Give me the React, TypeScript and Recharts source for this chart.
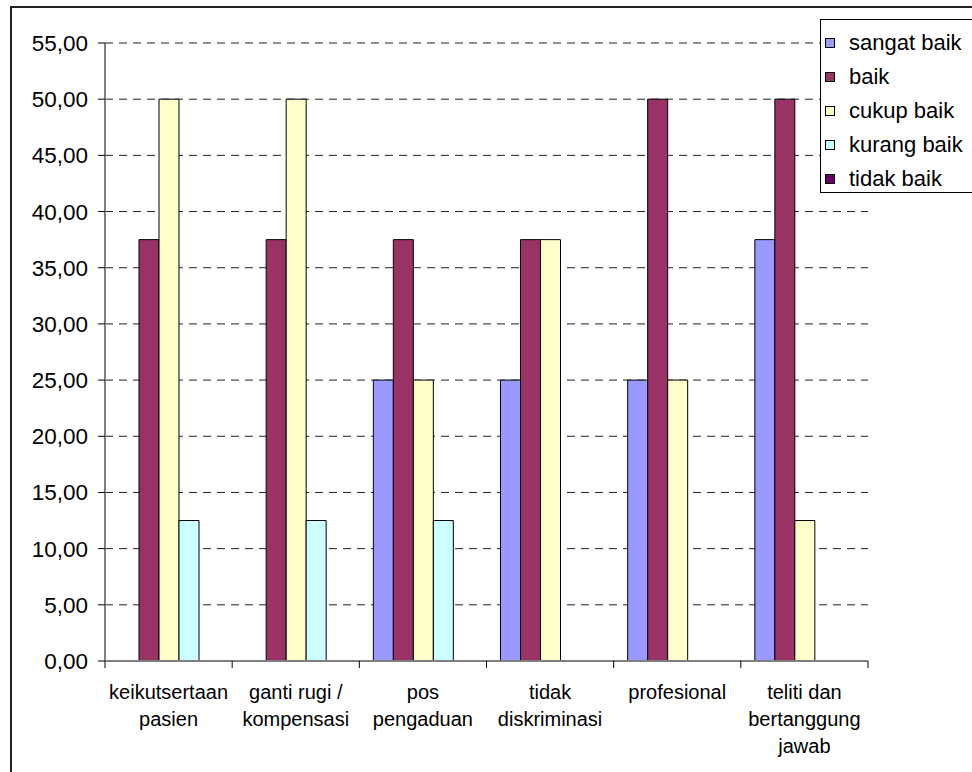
import React from "react";
import {
  BarChart,
  Bar,
  XAxis,
  YAxis,
  CartesianGrid,
  Legend
} from "recharts";

// categories, split in the lines used under the x axis
const categoryLines = [
  ["keikutsertaan", "pasien"],
  ["ganti rugi /", "kompensasi"],
  ["pos", "pengaduan"],
  ["tidak", "diskriminasi"],
  ["profesional"],
  ["teliti dan", "bertanggung", "jawab"]
];
const categories = categoryLines.map(l => l.join(" "));

const sangatBaik = [0, 0, 25, 25, 25, 37.5];
const baik = [37.5, 37.5, 37.5, 37.5, 50, 50];
const cukupBaik = [50, 50, 25, 37.5, 25, 12.5];
const kurangBaik = [12.5, 12.5, 12.5, 0, 0, 0];
const tidakBaik = [0, 0, 0, 0, 0, 0];

const yTicks = [0, 5, 10, 15, 20, 25, 30, 35, 40, 45, 50, 55];

const series = [
  { key: "sangatBaik", name: "sangat baik", color: "#9999FF" },
  { key: "baik", name: "baik", color: "#993366" },
  { key: "cukupBaik", name: "cukup baik", color: "#FFFFCC" },
  { key: "kurangBaik", name: "kurang baik", color: "#CCFFFF" },
  { key: "tidakBaik", name: "tidak baik", color: "#660066" }
];

const data = categories.map((c, i) => ({
  category: c,
  sangatBaik: sangatBaik[i],
  baik: baik[i],
  cukupBaik: cukupBaik[i],
  kurangBaik: kurangBaik[i],
  tidakBaik: tidakBaik[i]
}));

const W = 972;
const H = 772;
const Y_AXIS_W = 105;
const MARGIN = { top: 43, right: 104, bottom: 0, left: 0 };
const X_AXIS_H = 111;
const PLOT_BOTTOM = H - X_AXIS_H;
const BAND = (W - Y_AXIS_W - MARGIN.right) / categories.length;
const FONT = "'Liberation Sans', Arial, sans-serif";

const fmt = (v: number) => v.toFixed(2).replace(".", ",");

const XTick = ({ x, payload, index }: any) => {
  const lines = categoryLines[payload.index ?? index] || [payload.value];
  const right = x + BAND / 2;
  return (
    <g>
      {index === 0 && (
        <line x1={x - BAND / 2} x2={x - BAND / 2} y1={PLOT_BOTTOM} y2={PLOT_BOTTOM + 7} stroke="#000" />
      )}
      <line x1={right} x2={right} y1={PLOT_BOTTOM} y2={PLOT_BOTTOM + 7} stroke="#000" />
      {lines.map((t: string, i: number) => (
        <text
          key={i}
          x={x}
          y={PLOT_BOTTOM + 38 + i * 27}
          textAnchor="middle"
          fontSize={20}
          fontFamily={FONT}
          fill="#000"
        >
          {t}
        </text>
      ))}
    </g>
  );
};

const renderLegend = () => (
  <div
    style={{
      width: 170,
      height: 174,
      border: "1px solid #000",
      background: "#fff",
      boxSizing: "border-box",
      paddingTop: 6,
      fontFamily: FONT,
      fontSize: 22
    }}
  >
    {series.map(s => (
      <div key={s.key} style={{ display: "flex", alignItems: "center", height: 34 }}>
        <span
          style={{
            display: "inline-block",
            width: 8,
            height: 8,
            marginLeft: 4,
            marginRight: 14,
            background: s.color,
            border: "1px solid #000"
          }}
        />
        <span style={{ color: "#000" }}>{s.name}</span>
      </div>
    ))}
  </div>
);

export default function App() {
  return (
    <div
      style={{
        position: "absolute",
        left: 0,
        top: 0,
        width: W,
        height: H,
        overflow: "hidden",
        background: "#fff"
      }}
    >
      {/* outer chart frame, cut off at the right and bottom */}
      <div
        style={{
          position: "absolute",
          left: 10,
          top: 6,
          width: 1000,
          height: 800,
          border: "2px solid #222"
        }}
      />
      <div style={{ position: "absolute", left: 0, top: 0 }}>
        <BarChart width={W} height={H} data={data} margin={MARGIN} barGap={0} barSize={20}>
          <CartesianGrid
            horizontal
            vertical={false}
            stroke="#222"
            strokeDasharray="8 6"
            horizontalValues={yTicks.filter(t => t > 0)}
          />
          <XAxis
            dataKey="category"
            height={X_AXIS_H}
            tickLine={false}
            axisLine={{ stroke: "#808080", strokeWidth: 2 }}
            tick={<XTick />}
            interval={0}
          />
          <YAxis
            width={Y_AXIS_W}
            domain={[0, 55]}
            ticks={yTicks}
            interval={0}
            tickFormatter={fmt}
            tickSize={7}
            tickMargin={10}
            tickLine={{ stroke: "#000" }}
            axisLine={{ stroke: "#808080", strokeWidth: 2 }}
            tick={{ fontSize: 22.5, fontFamily: FONT, fill: "#000" }}
          />
          <Legend
            layout="vertical"
            align="center"
            verticalAlign="middle"
            content={renderLegend}
            wrapperStyle={{ left: 820, top: 19, width: 170, height: 174 }}
          />
          {series.map(s => (
            <Bar
              key={s.key}
              dataKey={s.key}
              name={s.name}
              fill={s.color}
              stroke="#000"
              strokeWidth={1}
              isAnimationActive={false}
            />
          ))}
        </BarChart>
      </div>
    </div>
  );
}
